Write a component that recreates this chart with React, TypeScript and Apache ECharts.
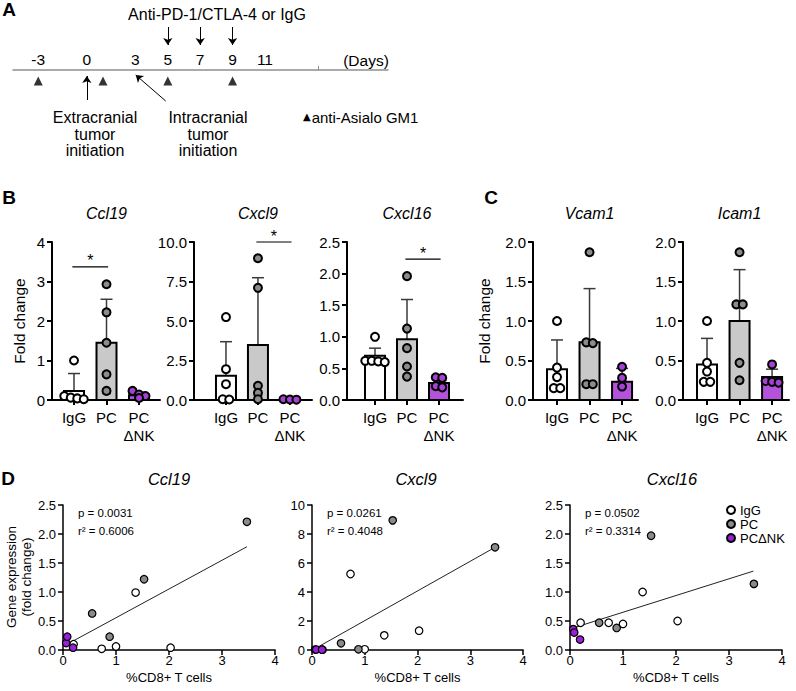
import React, { useEffect, useRef } from "react";
import * as echarts from "echarts";

const FONT = "'Liberation Sans', Arial, Helvetica, sans-serif";

// ---------- Panel A (timeline, days) ----------
const dayLabels = [-3, 0, 3, 5, 7, 9, 11];
const dayExtraTicks = [14.3];
const antibodyDays = [5, 7, 9];
const asialoDays = [-3, 1, 5, 9];
const extracranialDay = 0;
const intracranialDay = 3;

// ---------- Panels B / C (fold change) ----------
const groups = ["IgG", "PC", "PC\nΔNK"];

const ccl19Means = [0.23, 1.45, 0.12];
const ccl19Upper = [0.67, 2.55, 0.2];
const ccl19IgG = [1.0, 0.1, 0.06, 0.04, 0.02];
const ccl19PC = [2.93, 2.22, 1.45, 0.65, 0.23];
const ccl19PCdNK = [0.23, 0.14, 0.1, 0.05];
const ccl19Sig = [0, 1, 3.37];

const cxcl9Means = [1.54, 3.48, 0.03];
const cxcl9Upper = [3.69, 7.74, 0.05];
const cxcl9IgG = [5.25, 1.95, 1.0, 0.05, 0.03];
const cxcl9PC = [8.97, 7.1, 0.9, 0.45, 0.05];
const cxcl9PCdNK = [0.05, 0.03, 0.02];
const cxcl9Sig = [1, 2, 10.0];

const cxcl16Means = [0.7, 0.96, 0.27];
const cxcl16Upper = [0.82, 1.59, 0.34];
const cxcl16IgG = [1.0, 0.62, 0.62, 0.61, 0.6];
const cxcl16PC = [1.96, 1.13, 0.82, 0.53, 0.37];
const cxcl16PCdNK = [0.36, 0.35, 0.22, 0.2];
const cxcl16Sig = [1, 2, 2.23];

const vcam1Means = [0.39, 0.73, 0.23];
const vcam1Upper = [0.76, 1.41, 0.4];
const vcam1IgG = [1.0, 0.41, 0.29, 0.15, 0.15];
const vcam1PC = [1.87, 0.73, 0.72, 0.2, 0.2];
const vcam1PCdNK = [0.42, 0.28, 0.17];

const icam1Means = [0.45, 1.0, 0.29];
const icam1Upper = [0.78, 1.65, 0.39];
const icam1IgG = [1.0, 0.47, 0.36, 0.23, 0.23];
const icam1PC = [1.87, 1.21, 1.21, 0.47, 0.25];
const icam1PCdNK = [0.45, 0.24, 0.23, 0.22];

// ---------- Panel D (correlation) ----------
const cd8IgG = [0.2, 0.73, 1.0, 1.37, 2.03];
const cd8PC = [0.55, 0.88, 1.53, 3.47];
const cd8PCdNK = [0.06, 0.08, 0.19];

const corrCcl19IgG = [0.1, 0.02, 0.06, 0.99, 0.04];
const corrCcl19PC = [0.63, 0.23, 1.22, 2.21];
const corrCcl19PCdNK = [0.12, 0.23, 0.04];
const corrCcl19Fit = [[0.06, 0.09], [3.47, 1.78]];

const corrCxcl9IgG = [0.02, 5.24, 0.05, 1.01, 1.33];
const corrCxcl9PC = [0.46, 0.05, 8.94, 7.08];
const corrCxcl9PCdNK = [0.03, 0.03, 0.02];
const corrCxcl9Fit = [[0.06, 0.1], [3.47, 7.08]];

const corrCxcl16IgG = [0.47, 0.47, 0.45, 1.0, 0.5];
const corrCxcl16PC = [0.47, 0.38, 1.97, 1.14];
const corrCxcl16PCdNK = [0.36, 0.3, 0.18];
const corrCxcl16Fit = [[0.06, 0.38], [3.46, 1.36]];

const statsP = ["p = 0.0031", "p = 0.0261", "p = 0.0502"];
const statsR2 = ["r² = 0.6006", "r² = 0.4048", "r² = 0.3314"];

// ---------- styles ----------
const BAR_FILL = ["#ffffff", "#c9c9c9", "#b552dc"];
const BAR_POINT = ["#ffffff", "#8c8c8c", "#a640d6"];
const D_POINT = ["#ffffff", "#8a8a8a", "#9a1fd8"];
const SERIES_NAMES = ["IgG", "PC", "PCΔNK"];

function swarm(vals: number[], center: number, pxPerY: number, pxPerX: number) {
  const step = 6.5;
  const sorted = vals.map((v, i) => ({ v, i })).sort((a, b) => b.v - a.v);
  const out: number[][] = new Array(vals.length);
  let k = 0;
  while (k < sorted.length) {
    let j = k;
    while (j + 1 < sorted.length && (sorted[k].v - sorted[j + 1].v) * pxPerY < 5.4) j++;
    const n = j - k + 1;
    for (let m = 0; m < n; m++) {
      out[sorted[k + m].i] = [center + ((m - (n - 1) / 2) * step) / pxPerX, sorted[k + m].v];
    }
    k = j + 1;
  }
  return out;
}

function txt(text: string, x: number, y: number, o: any = {}) {
  return {
    type: "text",
    x,
    y,
    rotation: o.rot || 0,
    silent: true,
    z: 10,
    style: {
      text,
      fill: "#000",
      fontSize: o.size || 15,
      fontFamily: FONT,
      fontStyle: o.italic ? "italic" : "normal",
      fontWeight: o.bold ? "bold" : "normal",
      align: o.align || "center",
      verticalAlign: "middle",
      lineHeight: o.lh,
      rich: o.rich,
    },
  };
}

function buildOption() {
  const grid: any[] = [];
  const xAxis: any[] = [];
  const yAxis: any[] = [];
  const series: any[] = [];
  const graphic: any[] = [];

  // ---------------- Panel A ----------------
  grid.push({ left: 13, top: 0, width: 375, height: 160, outerBoundsMode: "none" });
  xAxis.push({
    gridIndex: 0,
    type: "value",
    min: -4.56,
    max: 18.6,
    position: "top",
    offset: -70,
    axisLine: { show: true, onZero: false, lineStyle: { color: "#8f8f8f", width: 1.5 } },
    axisTick: { show: true, customValues: dayExtraTicks, length: 4, lineStyle: { color: "#8f8f8f", width: 1 } },
    axisLabel: { customValues: dayLabels, margin: 3, fontSize: 15.5, color: "#000", fontFamily: FONT },
    splitLine: { show: false },
  });
  yAxis.push({ gridIndex: 0, type: "value", min: -70, max: 90, inverse: true, show: false });
  const arrowLine = (a: number[], b: number[]) => [{ coord: a }, { coord: b }];
  series.push({
    type: "scatter",
    name: "asialo",
    xAxisIndex: 0,
    yAxisIndex: 0,
    symbol: "triangle",
    symbolSize: [9, 9],
    itemStyle: { color: "#000" },
    silent: true,
    data: asialoDays.map((d) => [d, 11]),
    markLine: {
      silent: true,
      symbol: ["none", "arrow"],
      symbolSize: 7,
      label: { show: false },
      lineStyle: { color: "#000", width: 1, type: "solid" },
      data: [
        ...antibodyDays.map((d) => arrowLine([d, -43], [d, -25])),
        arrowLine([extracranialDay, 30], [extracranialDay, 6]),
        arrowLine([intracranialDay + 1.87, 31], [intracranialDay + 0.02, 5]),
      ],
    },
  });
  graphic.push(txt("A", 9, 9, { size: 19, bold: true }));
  graphic.push(txt("Anti-PD-1/CTLA-4 or IgG", 217, 14, { size: 16 }));
  graphic.push(txt("(Days)", 366, 60, { size: 15.5 }));
  graphic.push(txt("Extracranial\ntumor\ninitiation", 95, 134, { size: 16, lh: 16.5 }));
  graphic.push(txt("Intracranial\ntumor\ninitiation", 208, 134, { size: 16, lh: 16.5 }));
  graphic.push(
    txt("{tri|▲}{t|anti-Asialo GM1}", 303, 117, {
      align: "left",
      rich: {
        tri: { fontSize: 10, fontFamily: "'DejaVu Sans', sans-serif", fill: "#000", padding: [0, 1, 2, 0] },
        t: { fontSize: 15, fontFamily: FONT, fill: "#000" },
      },
    })
  );

  // ---------------- Panels B & C ----------------
  const barPanels = [
    { title: "Ccl19", means: ccl19Means, upper: ccl19Upper, pts: [ccl19IgG, ccl19PC, ccl19PCdNK], yMax: 4, yInt: 1, dec: 0, sig: ccl19Sig, left: 52, width: 108, xMin: -0.677, xMax: 2.646 },
    { title: "Cxcl9", means: cxcl9Means, upper: cxcl9Upper, pts: [cxcl9IgG, cxcl9PC, cxcl9PCdNK], yMax: 10, yInt: 2.5, dec: 1, sig: cxcl9Sig, left: 194, width: 118, xMin: -1.0, xMax: 2.69 },
    { title: "Cxcl16", means: cxcl16Means, upper: cxcl16Upper, pts: [cxcl16IgG, cxcl16PC, cxcl16PCdNK], yMax: 2.5, yInt: 0.5, dec: 1, sig: cxcl16Sig, left: 347, width: 116, xMin: -0.875, xMax: 2.75 },
    { title: "Vcam1", means: vcam1Means, upper: vcam1Upper, pts: [vcam1IgG, vcam1PC, vcam1PCdNK], yMax: 2, yInt: 0.5, dec: 1, sig: null, left: 533, width: 105, xMin: -0.738, xMax: 2.49 },
    { title: "Icam1", means: icam1Means, upper: icam1Upper, pts: [icam1IgG, icam1PC, icam1PCdNK], yMax: 2, yInt: 0.5, dec: 1, sig: null, left: 683, width: 106, xMin: -0.738, xMax: 2.52 },
  ];
  const BAR_TOP = 242;
  const BAR_H = 158;
  barPanels.forEach((p) => {
    const g = grid.length;
    grid.push({ left: p.left, top: BAR_TOP, width: p.width, height: BAR_H, outerBoundsMode: "none" });
    xAxis.push({
      gridIndex: g,
      type: "value",
      min: p.xMin,
      max: p.xMax,
      axisLine: { show: true, onZero: false, lineStyle: { color: "#000", width: 2 } },
      axisTick: { show: true, customValues: [0, 1, 2], length: 5, lineStyle: { color: "#000", width: 2 } },
      axisLabel: {
        customValues: [0, 1, 2],
        formatter: (v: number) => groups[Math.round(v)],
        fontSize: 15,
        lineHeight: 18,
        margin: 8,
        color: "#000",
        fontFamily: FONT,
      },
      splitLine: { show: false },
    });
    yAxis.push({
      gridIndex: g,
      type: "value",
      min: 0,
      max: p.yMax,
      interval: p.yInt,
      axisLine: { show: true, onZero: false, lineStyle: { color: "#000", width: 2 } },
      axisTick: { show: true, length: 5, lineStyle: { color: "#000", width: 2 } },
      axisLabel: { formatter: (v: number) => v.toFixed(p.dec), fontSize: 15, margin: 7, color: "#000", fontFamily: FONT },
      splitLine: { show: false },
    });
    series.push({
      type: "custom",
      name: p.title + " bars",
      xAxisIndex: g,
      yAxisIndex: g,
      silent: true,
      z: 2,
      data: p.means.map((m, i) => [i, m, p.upper[i]]),
      renderItem: (params: any, api: any) => {
        const i = api.value(0);
        const base = api.coord([i, 0]);
        const top = api.coord([i, api.value(1)]);
        const up = api.coord([i, api.value(2)]);
        const es = { stroke: "#3a3a3a", lineWidth: 1.5 };
        return {
          type: "group",
          children: [
            { type: "line", shape: { x1: top[0], y1: top[1], x2: up[0], y2: up[1] }, style: es },
            { type: "line", shape: { x1: up[0] - 6, y1: up[1], x2: up[0] + 6, y2: up[1] }, style: es },
            {
              type: "rect",
              shape: { x: base[0] - 10, y: top[1], width: 20, height: base[1] - top[1] },
              style: { fill: BAR_FILL[i], stroke: "#000", lineWidth: 2 },
            },
          ],
        };
      },
    });
    const pxPerX = p.width / (p.xMax - p.xMin);
    const pxPerY = BAR_H / p.yMax;
    p.pts.forEach((vals, gi) => {
      series.push({
        type: "scatter",
        name: p.title + " " + SERIES_NAMES[gi],
        xAxisIndex: g,
        yAxisIndex: g,
        silent: true,
        z: 3,
        symbol: "circle",
        symbolSize: 8,
        itemStyle: { color: BAR_POINT[gi], borderColor: "#000", borderWidth: 2, opacity: 1 },
        data: swarm(vals, gi, pxPerY, pxPerX),
      });
    });
    if (p.sig) {
      series.push({
        type: "custom",
        name: p.title + " sig",
        xAxisIndex: g,
        yAxisIndex: g,
        silent: true,
        z: 4,
        data: [p.sig],
        renderItem: (params: any, api: any) => {
          const a = api.coord([api.value(0) - 0.05, api.value(2)]);
          const b = api.coord([api.value(1) + 0.05, api.value(2)]);
          return {
            type: "group",
            children: [
              { type: "line", shape: { x1: a[0], y1: a[1], x2: b[0], y2: b[1] }, style: { stroke: "#000", lineWidth: 1.2 } },
              {
                type: "text",
                x: (a[0] + b[0]) / 2,
                y: a[1] - 6,
                style: { text: "*", align: "center", verticalAlign: "middle", fontSize: 16, fontFamily: FONT, fill: "#000" },
              },
            ],
          };
        },
      });
    }
    const midX = p.left + (1 - p.xMin) * pxPerX;
    graphic.push(txt(p.title, midX, 213, { size: 16, italic: true }));
  });
  graphic.push(txt("B", 9, 197, { size: 19, bold: true }));
  graphic.push(txt("C", 491, 197, { size: 19, bold: true }));
  graphic.push(txt("Fold change", 19, 321, { size: 15.5, rot: Math.PI / 2 }));
  graphic.push(txt("Fold change", 484, 321, { size: 15.5, rot: Math.PI / 2 }));

  // ---------------- Panel D ----------------
  const corrPanels = [
    { title: "Ccl19", ys: [corrCcl19IgG, corrCcl19PC, corrCcl19PCdNK], fit: corrCcl19Fit, yMax: 2.5, yInt: 0.5, dec: 1, left: 63, width: 212, titleX: 169 },
    { title: "Cxcl9", ys: [corrCxcl9IgG, corrCxcl9PC, corrCxcl9PCdNK], fit: corrCxcl9Fit, yMax: 10, yInt: 2, dec: 0, left: 312, width: 211, titleX: 416 },
    { title: "Cxcl16", ys: [corrCxcl16IgG, corrCxcl16PC, corrCxcl16PCdNK], fit: corrCxcl16Fit, yMax: 2.5, yInt: 0.5, dec: 1, left: 570, width: 212, titleX: 672 },
  ];
  const cd8 = [cd8IgG, cd8PC, cd8PCdNK];
  const D_TOP = 505;
  const D_H = 145;
  corrPanels.forEach((p, pi) => {
    const g = grid.length;
    grid.push({ left: p.left, top: D_TOP, width: p.width, height: D_H, outerBoundsMode: "none" });
    xAxis.push({
      gridIndex: g,
      type: "value",
      min: 0,
      max: 4,
      interval: 1,
      axisLine: { show: true, onZero: false, lineStyle: { color: "#000", width: 1.5 } },
      axisTick: { show: true, length: 5, lineStyle: { color: "#000", width: 1.5 } },
      axisLabel: { fontSize: 13, margin: 4, color: "#000", fontFamily: FONT },
      splitLine: { show: false },
    });
    yAxis.push({
      gridIndex: g,
      type: "value",
      min: 0,
      max: p.yMax,
      interval: p.yInt,
      axisLine: { show: true, onZero: false, lineStyle: { color: "#000", width: 1.5 } },
      axisTick: { show: true, length: 5, lineStyle: { color: "#000", width: 1.5 } },
      axisLabel: { formatter: (v: number) => v.toFixed(p.dec), fontSize: 13, margin: 7, color: "#000", fontFamily: FONT },
      splitLine: { show: false },
    });
    series.push({
      type: "line",
      name: p.title + " fit",
      xAxisIndex: g,
      yAxisIndex: g,
      silent: true,
      symbol: "none",
      z: 2,
      lineStyle: { color: "#222", width: 1 },
      data: p.fit,
    });
    p.ys.forEach((vals, gi) => {
      series.push({
        type: "scatter",
        name: SERIES_NAMES[gi],
        xAxisIndex: g,
        yAxisIndex: g,
        silent: true,
        z: 3,
        symbol: "circle",
        symbolSize: 7.5,
        itemStyle: { color: D_POINT[gi], borderColor: "#000", borderWidth: 1.2, opacity: 1 },
        data: vals.map((v, i) => [cd8[gi][i], v]),
      });
    });
    graphic.push(txt(p.title, p.titleX, 479, { size: 16.5, italic: true }));
    graphic.push(txt("%CD8+ T cells", p.left + p.width / 2, 677, { size: 13 }));
    graphic.push(txt(statsP[pi], p.left + 15, 513, { size: 11.5, align: "left" }));
    graphic.push(txt(statsR2[pi], p.left + 15, 531, { size: 11.5, align: "left" }));
  });
  graphic.push(txt("D", 8, 478, { size: 19, bold: true }));
  graphic.push(txt("Gene expression", 11, 577, { size: 13.5, rot: Math.PI / 2 }));
  graphic.push(txt("(fold change)", 26, 577, { size: 13.5, rot: Math.PI / 2 }));

  return {
    animation: false,
    backgroundColor: "#fff",
    textStyle: { fontFamily: FONT, color: "#000" },
    grid,
    xAxis,
    yAxis,
    series,
    graphic,
    legend: {
      data: SERIES_NAMES,
      orient: "vertical",
      left: 721,
      top: 498,
      itemWidth: 8,
      itemHeight: 8,
      itemGap: 0,
      icon: "circle",
      selectedMode: false,
      textStyle: { fontSize: 13, lineHeight: 14, fontFamily: FONT, color: "#000" },
    },
  };
}

export default function App() {
  const ref = useRef<HTMLDivElement>(null);
  useEffect(() => {
    const chart = echarts.init(ref.current as HTMLDivElement, null, { renderer: "svg" });
    chart.setOption(buildOption() as any);
    return () => chart.dispose();
  }, []);
  return (
    <div
      ref={ref}
      style={{ position: "fixed", left: 0, top: 0, width: 796, height: 691, background: "#fff" }}
    />
  );
}
